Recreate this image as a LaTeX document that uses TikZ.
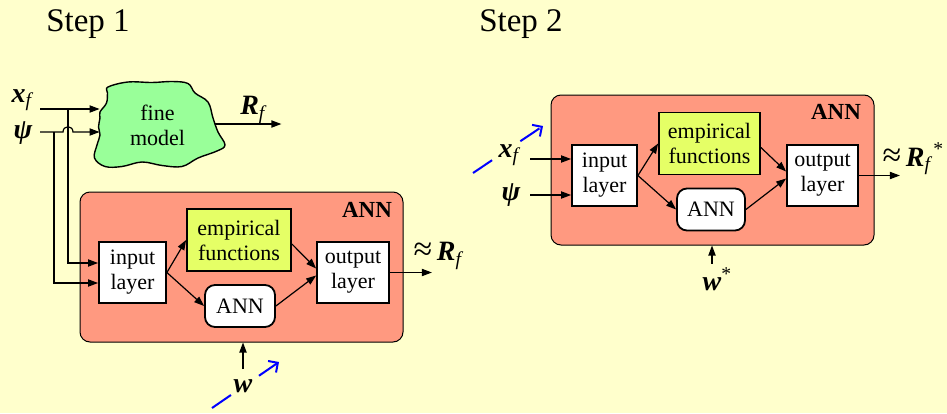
\documentclass[tikz,border=0pt]{standalone}
\usepackage{fontspec}
\setmainfont{Liberation Serif}
\usetikzlibrary{calc, positioning, arrows.meta}
\definecolor{slidecream}{rgb}{1, 1, 0.8}
\definecolor{annsalmon}{rgb}{1, 0.6, 0.5}
\definecolor{cloudgreen}{rgb}{0.6, 1, 0.6}
\definecolor{funclime}{rgb}{0.9, 1, 0.4}
\newcommand{\bv}[1]{\textbf{\textit{#1}}}
\newcommand{\subf}{\textsubscript{\textit{f}}}
\newcommand{\approxsign}{{\fontsize{17}{17}\selectfont ≈}}
\tikzset{
    annbox/.style={draw, line width=0.5pt, fill=annsalmon, rounded corners=5pt, minimum width=161.5pt, minimum height=75pt, inner sep=0pt},
    layerbox/.style={draw, line width=0.9pt, fill=white, minimum width=33.5pt, minimum height=30.5pt, inner sep=0pt, align=center, font=\fontsize{11}{12.5}\selectfont},
    funcbox/.style={layerbox, fill=funclime, minimum width=52pt, minimum height=31pt},
    netbox/.style={layerbox, rounded corners=5pt, minimum width=35pt, minimum height=21pt},
    varlabel/.style={inner sep=1pt, font=\fontsize{14}{16}\selectfont},
    steplabel/.style={font=\fontsize{16.5}{20}\selectfont},
    wire/.style={line width=0.6pt},
    hint/.style={blue, line width=1pt, dash pattern=on 11.5pt off 17pt, -{Straight Barb[length=3.5pt,width=7pt]}}
}

\begin{document}
\begin{tikzpicture}[x=0.5pt, y=-0.5pt, >={Triangle[length=5pt,width=3.6pt]}]
    \fill[slidecream] (0,0) rectangle (947,413);
    \useasboundingbox (0,0) rectangle (947,413);

    \node[steplabel] (S1) at (88,24) {Step 1};
    \node[steplabel] (S2) at (521,24) {Step 2};

    % step 1: fine model and training of the ANN
    \begin{scope}
        \draw[fill=cloudgreen, line width=0.7pt] plot[smooth cycle, tension=0.6] coordinates {
            (108,87) (128,82) (152,82.5) (172,81.5) (188,83.5) (195,93) (208,102) (213,118)
            (218,132) (225,145) (217,151) (198,158) (182,166.5) (162,165.5) (142,162) (122,166.5)
            (105,166.5) (94.5,158) (97,145) (100,135) (98.5,127) (100,118) (100,112) (106.5,103) (107.5,93)};
        \node[align=center, minimum width=57.5pt, inner sep=0pt, font=\fontsize{11}{12.5}\selectfont] (fm) at (157.5,125) {fine\\model};
        \node[varlabel] (Rf0) at (254,110) {\bv{R}\subf};

        \node[annbox] (B) at (241.5,267) {};
        \node[font=\fontsize{11.5}{13}\selectfont\bfseries] (L) at (367,210) {ANN};
        \node[layerbox] (In) at (132.5,272.5) {input\\layer};
        \node[funcbox] (Emp) at (239,240) {empirical\\functions};
        \node[netbox] (Net) at (240,306) {ANN};
        \node[layerbox, minimum width=36pt] (Out) at (353,272.5) {output\\layer};

        \node[varlabel] (xf) at (23,100) {\bv{x}\subf};
        \node[varlabel] (psi) at (23,133) {\bv{ψ}};
        \node[varlabel, inner sep=5pt] (w) at (243,386) {\bv{w}};
        \node[varlabel] (Rf) at (439,256) {\approxsign\,\bv{R}\subf};

        \coordinate (xs) at (40,109);
        \coordinate (ps) at (40,132);
        \coordinate (jx) at (68,109);
        \coordinate (jp) at (54,132);
        \coordinate (h1) at (63,132);
        \coordinate (h2) at (73,132);

        \draw[wire, ->] (xs) -- (fm.west |- xs);
        \draw[wire, ->] (ps) -- (h1) .. controls ($(h1)+(0,-7)$) and ($(h2)+(0,-7)$) .. (h2) -- (fm.west |- ps);
        \draw[wire, ->] (jx) |- ($(In.west)+(0,-9.5)$);
        \draw[wire, ->] (jp) |- ($(In.west)+(0,10.5)$);
        \draw[wire, ->] ($(fm.east)+(0,-1)$) -- ++(66,0);

        \draw[wire, ->] (In.east) -- (Emp.west);
        \draw[wire, ->] (In.east) -- (Net.west);
        \draw[wire, ->] ($(Emp.east)+(0,4)$) -- ($(Out.west)+(0,-4)$);
        \draw[wire, ->] (Net.east) -- ($(Out.west)+(0,3)$);
        \draw[wire, ->] (Out.east) -- ++(42,0);
        \draw[wire, ->] (w) -- (w |- B.south);
    \end{scope}

    % step 2: trained ANN as surrogate
    \begin{scope}[shift={(471,-97)}]
        \node[annbox] (B) at (241.5,267) {};
        \node[font=\fontsize{11.5}{13}\selectfont\bfseries] (L) at (365,209) {ANN};
        \node[layerbox, minimum width=32.5pt] (In) at (133.5,272.5) {input\\layer};
        \node[funcbox, minimum width=50.5pt] (Emp) at (238.5,240.5) {empirical\\functions};
        \node[netbox, minimum width=34pt] (Net) at (240,306.5) {ANN};
        \node[layerbox, minimum width=35.5pt] (Out) at (351.5,272.5) {output\\layer};

        \node[varlabel] (xf) at (39,252) {\bv{x}\subf};
        \node[varlabel] (psi) at (40,292) {\bv{ψ}};
        \node[varlabel, inner sep=1.5pt] (w) at (241,376) {\bv{w}\rlap{\textsuperscript{*}}};
        \node[varlabel] (Rf) at (437,256) {\approxsign\,\bv{R}\subf\rlap{\textsuperscript{*}}};

        \coordinate (xs) at (59,256);
        \coordinate (ps) at (59,292);

        \draw[wire, ->] (xs) -- (xs -| In.west);
        \draw[wire, ->] (ps) -- (ps -| In.west);
        \draw[wire, ->] (In.east) -- (Emp.west);
        \draw[wire, ->] (In.east) -- (Net.west);
        \draw[wire, ->] ($(Emp.east)+(0,4)$) -- ($(Out.west)+(0,-4)$);
        \draw[wire, ->] (Net.east) -- ($(Out.west)+(0,3)$);
        \draw[wire, ->] (Out.east) -- ++(41,0);
        \draw[wire, ->] (w) -- (w |- B.south);
    \end{scope}

    % blue hints
    \coordinate (b1s) at (212,408);
    \coordinate (b1e) at (279,362);
    \coordinate (b2s) at (473,173);
    \coordinate (b2e) at (543,126);
    \draw[hint] (b1s) -- (b1e);
    \draw[hint] (b2s) -- (b2e);
\end{tikzpicture}
\end{document}
